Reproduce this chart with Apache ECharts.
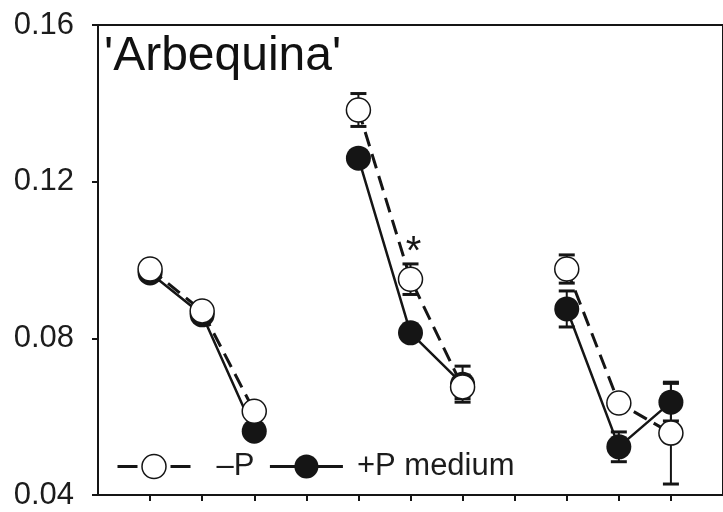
<!DOCTYPE html>
<html>
<head>
<meta charset="utf-8">
<script src="https://cdn.jsdelivr.net/npm/echarts@6/dist/echarts.min.js"></script>
<style>
  html, body { margin: 0; padding: 0; background: #fff; }
  #chart { width: 723px; height: 512px; }
</style>
</head>
<body>
<div id="chart"></div>
<script>
// Sampling positions (three groups of three, one empty slot between groups)
const xPos = [1, 2, 3, 5, 6, 7, 9, 10, 11];

// –P treatment: means and standard errors
const minusP    = [0.0977, 0.0870, 0.0614, 0.1383, 0.0951, 0.0676, 0.0977, 0.0635, 0.0558];
const minusPErr = [0.0010, 0.0010, 0.0010, 0.0042, 0.0039, 0.0030, 0.0036, 0.0010, 0.0130];

// +P medium treatment: means and standard errors
const plusP     = [0.0967, 0.0860, 0.0563, 0.1260, 0.0814, 0.0683, 0.0875, 0.0523, 0.0637];
const plusPErr  = [0.0010, 0.0010, 0.0010, 0.0020, 0.0020, 0.0046, 0.0046, 0.0038, 0.0048];

// Significant difference markers
const sigMark   = [false, false, false, false, true, false, false, false, false];

const yTicks = [0.04, 0.08, 0.12, 0.16];
const seriesNames = ['–P', '+P medium'];
const panelTitle = "'Arbequina'";

const FONT = "'Liberation Sans', Arial, sans-serif";
const INK = '#151515';

// Insert a gap between groups so the lines break
function lineData(vals, withSig) {
  const out = [];
  for (let i = 0; i < xPos.length; i++) {
    if (i > 0 && xPos[i] - xPos[i - 1] > 1) out.push([xPos[i] - 1, '-']);
    const item = { value: [xPos[i], vals[i]] };
    if (withSig && sigMark[i]) {
      item.label = {
        show: true, position: 'top', distance: 0, offset: [3, 7],
        formatter: '*', fontSize: 40, color: INK, fontFamily: FONT
      };
    }
    out.push(item);
  }
  return out;
}

function errData(vals, errs) {
  return xPos.map((x, i) => [x, vals[i] - errs[i], vals[i] + errs[i]]);
}

function renderErr(params, api) {
  const x = api.value(0);
  const lo = api.coord([x, api.value(1)]);
  const hi = api.coord([x, api.value(2)]);
  const hw = 8;
  const st = { stroke: INK, lineWidth: 2 };
  const cap = { stroke: INK, lineWidth: 3 };
  return {
    type: 'group',
    children: [
      { type: 'line', shape: { x1: lo[0], y1: lo[1], x2: hi[0], y2: hi[1] }, style: st },
      { type: 'line', shape: { x1: lo[0] - hw, y1: lo[1], x2: lo[0] + hw, y2: lo[1] }, style: cap },
      { type: 'line', shape: { x1: hi[0] - hw, y1: hi[1], x2: hi[0] + hw, y2: hi[1] }, style: cap }
    ]
  };
}

const chart = echarts.init(document.getElementById('chart'), null, { renderer: 'canvas' });

chart.setOption({
  animation: false,
  backgroundColor: '#fff',
  grid: {
    left: 98, top: 25, width: 628, height: 470,
    show: true, borderColor: INK, borderWidth: 2, backgroundColor: 'transparent'
  },
  xAxis: {
    type: 'value', min: 0, max: 12, interval: 1,
    axisLine: { show: true, lineStyle: { color: INK, width: 2 } },
    axisTick: { show: true, length: 6, lineStyle: { color: INK, width: 2 },
                customValues: xPos.concat([4, 8]).sort((a, b) => a - b) },
    axisLabel: { show: false },
    splitLine: { show: false }
  },
  yAxis: {
    type: 'value', min: 0.04, max: 0.16, interval: 0.04,
    axisLine: { show: true, lineStyle: { color: INK, width: 2 } },
    axisTick: { show: true, length: 6, lineStyle: { color: INK, width: 2 } },
    axisLabel: {
      margin: 24, fontSize: 31, color: '#1c1c1c', fontFamily: FONT,
      formatter: v => {
        const t = yTicks.find(k => Math.abs(k - v) < 1e-9);
        return t !== undefined ? t.toFixed(2) : '';
      }
    },
    splitLine: { show: false }
  },
  legend: {
    left: 116, top: 451, padding: 0,
    itemWidth: 73, itemHeight: 30, itemGap: 14,
    data: [
      { name: seriesNames[0],
        itemStyle: { color: '#fff', borderColor: INK, borderWidth: 1.5 },
        lineStyle: { type: [20, 33], width: 3 } },
      { name: seriesNames[1],
        itemStyle: { color: INK, borderWidth: 0 },
        lineStyle: { width: 3 } }
    ],
    formatter: name => name === seriesNames[0] ? '{a|' + name + '}' : '{b|' + name + '}',
    textStyle: {
      fontSize: 31, color: '#1c1c1c', fontFamily: FONT,
      rich: {
        a: { fontSize: 31, color: '#1c1c1c', fontFamily: FONT, padding: [0, 0, 0, 21] },
        b: { fontSize: 31, color: '#1c1c1c', fontFamily: FONT, padding: [0, 0, 0, 9] }
      }
    }
  },
  graphic: [{
    type: 'text', left: 104, top: 33, z: 10,
    style: { text: panelTitle, font: '48px ' + FONT, fill: '#111' }
  }],
  series: [
    {
      type: 'custom', name: 'errPlus', renderItem: renderErr, z: 1,
      data: errData(plusP, plusPErr), encode: { x: 0, y: [1, 2] }, silent: true
    },
    {
      type: 'custom', name: 'errMinus', renderItem: renderErr, z: 1,
      data: errData(minusP, minusPErr), encode: { x: 0, y: [1, 2] }, silent: true
    },
    {
      type: 'line', name: seriesNames[1], z: 2,
      data: lineData(plusP, false), connectNulls: false,
      symbol: 'circle', symbolSize: 25, showAllSymbol: true,
      lineStyle: { color: INK, width: 2.5, type: 'solid' },
      itemStyle: { color: INK, borderWidth: 0 }
    },
    {
      type: 'line', name: seriesNames[0], z: 3,
      data: lineData(minusP, true), connectNulls: false,
      symbol: 'circle', symbolSize: 24, showAllSymbol: true,
      lineStyle: { color: INK, width: 3, type: [15, 8] },
      itemStyle: { color: '#fff', borderColor: INK, borderWidth: 1.5 }
    }
  ]
});
</script>
</body>
</html>
